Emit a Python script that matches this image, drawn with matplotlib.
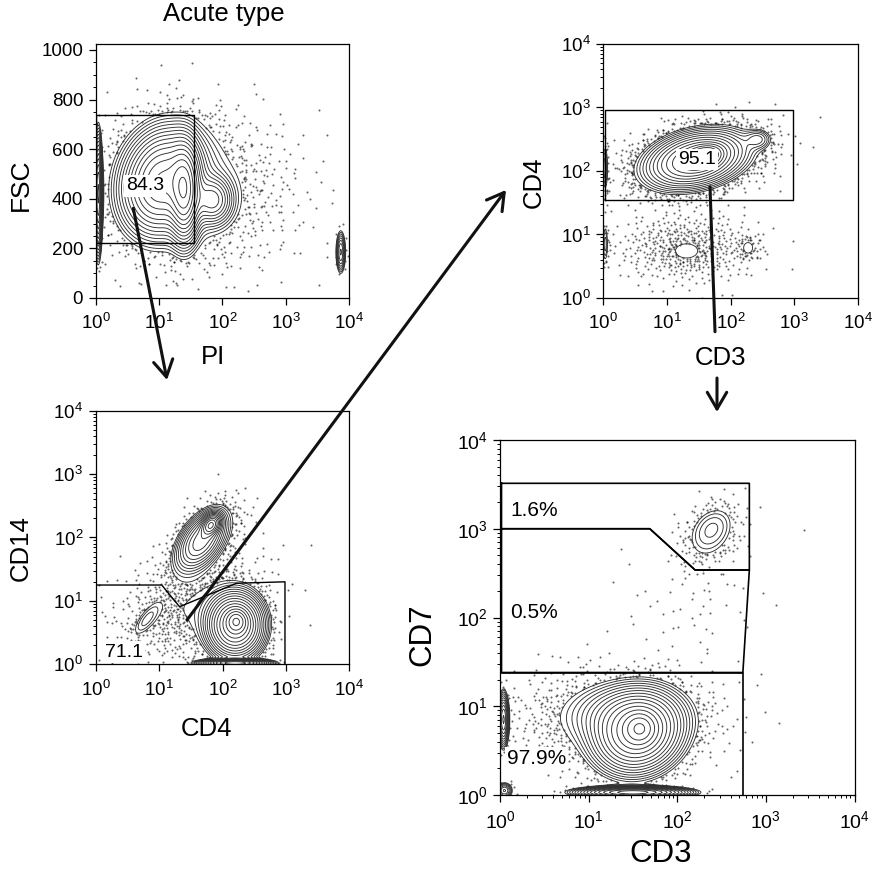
import numpy as np
import matplotlib
matplotlib.use("Agg")
import matplotlib.pyplot as plt
from matplotlib.patches import FancyArrowPatch
from matplotlib.ticker import FixedLocator, FixedFormatter, LogLocator, NullFormatter, MultipleLocator

plt.rcParams['font.family'] = ['Liberation Sans', 'DejaVu Sans']
plt.rcParams['mathtext.default'] = 'regular'

# ---- axis ticks ----
log_ticks = [1, 10, 100, 1000, 10000]
log_labels = ['$10^{0}$', '$10^{1}$', '$10^{2}$', '$10^{3}$', '$10^{4}$']
fsc_ticks = [0, 200, 400, 600, 800, 1000]
fsc_labels = ['0', '200', '400', '600', '800', '1000']

# ---- populations ----
# centre (log10 x, y), spread, correlation, number of events
# panel A: PI (log) vs FSC (linear, y in FSC units)
pi_cx = [1.05, 1.40, 1.85, 0.04, 3.87, 1.20, 1.90]
pi_cy = [470, 430, 395, 420, 185, 460, 420]
pi_sx = [0.30, 0.12, 0.16, 0.03, 0.04, 0.55, 0.75]
pi_sy = [100, 95, 50, 110, 45, 150, 170]
pi_rho = [0.15, 0.0, 0.0, 0.0, 0.0, 0.0, 0.0]
pi_n = [5000, 2500, 500, 600, 70, 1200, 500]

# panel B: CD3 vs CD4 (log10 both)
b_cx = [1.45, 1.58, 2.43, 1.31, 2.28, 0.03, 0.03, 1.30, 1.50]
b_cy = [2.18, 2.22, 2.50, 0.72, 0.79, 2.05, 0.85, 0.80, 2.20]
b_sx = [0.38, 0.14, 0.12, 0.18, 0.10, 0.03, 0.03, 0.55, 0.60]
b_sy = [0.22, 0.09, 0.09, 0.12, 0.12, 0.25, 0.20, 0.28, 0.30]
b_rho = [0.3, 0.3, 0.0, 0.0, 0.0, 0.0, 0.0, 0.0, 0.3]
b_n = [6000, 1500, 110, 45, 52, 60, 45, 450, 800]

# panel C: CD4 vs CD14 (log10 both)
c_cx = [1.66, 1.82, 2.20, 2.22, 2.20, 0.80, 1.50, 1.75]
c_cy = [1.95, 2.20, 0.62, 0.68, 0.02, 0.70, 0.90, 2.00]
c_sx = [0.20, 0.08, 0.22, 0.09, 0.25, 0.14, 0.60, 0.30]
c_sy = [0.24, 0.09, 0.25, 0.10, 0.03, 0.17, 0.45, 0.32]
c_rho = [0.5, 0.3, 0.0, 0.0, 0.0, 0.75, 0.3, 0.5]
c_n = [1400, 500, 5000, 600, 1000, 70, 800, 350]

# panel D: CD3 vs CD7 (log10 both)
d_cx = [1.55, 1.58, 1.45, 1.50, 0.04, 0.05, 2.39, 2.38, 1.30, 2.20]
d_cy = [0.70, 0.75, 0.90, 0.03, 0.85, 0.05, 3.02, 2.95, 0.85, 2.20]
d_sx = [0.24, 0.10, 0.32, 0.28, 0.03, 0.05, 0.12, 0.18, 0.60, 0.45]
d_sy = [0.22, 0.10, 0.18, 0.03, 0.15, 0.05, 0.12, 0.20, 0.30, 0.40]
d_rho = [0.1, 0.0, 0.0, 0.0, 0.0, 0.0, 0.3, 0.3, 0.0, 0.0]
d_n = [6000, 800, 1200, 1500, 250, 50, 40, 250, 900, 60]

# ---- gates ----
a_gate_x = [1.02, 35.7, 35.7, 1.02, 1.02]
a_gate_y = [221, 221, 738, 738, 221]
b_gate_x = [1.07, 950, 950, 1.07, 1.07]
b_gate_y = [35.3, 35.3, 900, 900, 35.3]
c_gate_x = [1.02, 1.02, 11, 21, 167, 967, 967]
c_gate_y = [1.0, 17.8, 17.8, 8.1, 19, 20, 1.0]
d_top_x = [1.04, 651, 651, 159, 49, 1.04, 1.04]
d_top_y = [3250, 3250, 343, 343, 1000, 1000, 3250]
d_mid_x = [1.04, 49, 159, 651, 550, 1.04, 1.04]
d_mid_y = [1000, 1000, 343, 343, 24, 24, 1000]
d_low_x = [1.04, 550, 550]
d_low_y = [24, 24, 1.0]


def halton(n, base, start):
    out = np.empty(n)
    for i in range(n):
        k, f, r = start + i, 1.0, 0.0
        while k > 0:
            f /= base
            r += f * (k % base)
            k //= base
        out[i] = r
    return out


def events(cx, cy, sx, sy, rho, n):
    # deterministic quasi-random draw of every population
    xs, ys = [], []
    start = 1
    for i in range(len(cx)):
        h1 = halton(n[i], 2, start)
        h2 = halton(n[i], 3, start)
        start += n[i]
        r = np.sqrt(-2 * np.log(1 - 0.999 * h1))
        z1 = r * np.cos(2 * np.pi * h2)
        z2 = r * np.sin(2 * np.pi * h2)
        xs.append(cx[i] + sx[i] * z1)
        ys.append(cy[i] + sy[i] * (rho[i] * z1 + np.sqrt(1 - rho[i] ** 2) * z2))
    return np.concatenate(xs), np.concatenate(ys)


def density(u, v, cx, cy, sx, sy, rho, n):
    z = np.zeros_like(u)
    for i in range(len(cx)):
        a = (u - cx[i]) / sx[i]
        b = (v - cy[i]) / sy[i]
        q = (a * a - 2 * rho[i] * a * b + b * b) / (1 - rho[i] ** 2)
        z += n[i] / (sx[i] * sy[i] * np.sqrt(1 - rho[i] ** 2)) * np.exp(-q / 2)
    return z


def draw_flow(ax, cx, cy, sx, sy, rho, n, yscale=1.0, ylog=True, f0=0.02, nlev=16):
    cy = np.array(cy, float) / yscale
    sy = np.array(sy, float) / yscale
    to_y = (lambda v: 10 ** v) if ylog else (lambda v: v * yscale)
    U, V = np.meshgrid(np.linspace(0, 4, 400), np.linspace(0, 4, 400))
    Z = density(U, V, cx, cy, sx, sy, rho, n)
    levels = Z.max() * np.geomspace(f0, 0.92, nlev)
    eu, ev = events(cx, cy, sx, sy, rho, n)
    keep = (density(eu, ev, cx, cy, sx, sy, rho, n) < levels[0]) & \
           (eu > 0) & (eu < 4) & (ev > 0) & (ev < 4)
    ax.scatter(10 ** eu[keep], to_y(ev[keep]), s=2.2, c='k', alpha=0.6,
               linewidths=0, rasterized=True)
    ax.contour(10 ** U, to_y(V), Z, levels=levels, colors='#303030', linewidths=0.65)


def style_axes(ax, ylog=True, fs=13.5):
    ax.set_xscale('log')
    ax.set_xlim(1, 10000)
    ax.xaxis.set_major_locator(FixedLocator(log_ticks))
    ax.xaxis.set_major_formatter(FixedFormatter(log_labels))
    ax.xaxis.set_minor_locator(LogLocator(base=10, subs=np.arange(2, 10)))
    ax.xaxis.set_minor_formatter(NullFormatter())
    if ylog:
        ax.set_yscale('log')
        ax.set_ylim(1, 10000)
        ax.yaxis.set_major_locator(FixedLocator(log_ticks))
        ax.yaxis.set_major_formatter(FixedFormatter(log_labels))
        ax.yaxis.set_minor_locator(LogLocator(base=10, subs=np.arange(2, 10)))
        ax.yaxis.set_minor_formatter(NullFormatter())
    else:
        ax.set_ylim(0, 1024)
        ax.yaxis.set_major_locator(FixedLocator(fsc_ticks))
        ax.yaxis.set_major_formatter(FixedFormatter(fsc_labels))
        ax.yaxis.set_minor_locator(MultipleLocator(50))
    ax.tick_params(which='major', direction='out', length=5, width=0.9, labelsize=fs)
    ax.tick_params(which='minor', direction='out', length=2.5, width=0.7)
    ax.tick_params(axis='x', pad=6)
    ax.tick_params(axis='y', pad=4)
    for s in ax.spines.values():
        s.set_linewidth(0.9)


W, H = 886, 871
fig = plt.figure(figsize=(W / 100, H / 100), dpi=100)


def box(x0, y0, x1, y1):
    # pixel box (top-left origin) -> figure fraction
    return [x0 / W, 1 - y1 / H, (x1 - x0) / W, (y1 - y0) / H]


ax1 = fig.add_axes(box(95.7, 44, 349, 298))
ax2 = fig.add_axes(box(603.3, 44, 858, 298))
ax3 = fig.add_axes(box(95.7, 410.7, 349.3, 664.3))
ax4 = fig.add_axes(box(500, 440, 854.5, 795))

# panel A
draw_flow(ax1, pi_cx, pi_cy, pi_sx, pi_sy, pi_rho, pi_n, yscale=256, ylog=False)
style_axes(ax1, ylog=False)
ax1.plot(a_gate_x, a_gate_y, color='k', lw=1.0)
ax1.text(6.0, 452, '84.3', fontsize=14, ha='center', va='center',
         bbox=dict(facecolor='white', edgecolor='none', pad=1.5), zorder=5)

# panel B
draw_flow(ax2, b_cx, b_cy, b_sx, b_sy, b_rho, b_n)
style_axes(ax2)
ax2.plot(b_gate_x, b_gate_y, color='k', lw=1.0)
ax2.text(30, 150, '95.1', fontsize=14, ha='center', va='center',
         bbox=dict(facecolor='white', edgecolor='none', pad=1.5), zorder=5)

# panel C
draw_flow(ax3, c_cx, c_cy, c_sx, c_sy, c_rho, c_n)
style_axes(ax3)
ax3.plot(c_gate_x, c_gate_y, color='k', lw=1.0)
ax3.text(2.8, 1.56, '71.1', fontsize=14, ha='center', va='center', clip_on=False,
         bbox=dict(facecolor='white', edgecolor='none', pad=1.5), zorder=5)

# panel D
draw_flow(ax4, d_cx, d_cy, d_sx, d_sy, d_rho, d_n)
style_axes(ax4, fs=14)
for gx, gy in [(d_top_x, d_top_y), (d_mid_x, d_mid_y), (d_low_x, d_low_y)]:
    ax4.plot(gx, gy, color='k', lw=1.2)
ax4.text(1.3, 1585, '1.6%', fontsize=15, ha='left', va='center')
ax4.text(1.3, 115, '0.5%', fontsize=15, ha='left', va='center')
ax4.text(1.19, 2.6, '97.9%', fontsize=15, ha='left', va='center', zorder=5,
         bbox=dict(facecolor='white', edgecolor='none', pad=1.0))


# axis titles placed as on the original sheet
def ftext(x, y, s, size, rot=0):
    fig.text(x / W, 1 - y / H, s, fontsize=size, rotation=rot, ha='center', va='center')


ftext(224, 14, 'Acute type', 18.5)
ftext(21, 185, 'FSC', 19, 90)
ftext(213, 357, 'PI', 18.5)
ftext(534, 182, 'CD4', 18.5, 90)
ftext(720, 358, 'CD3', 18.5)
ftext(21, 548, 'CD14', 18.5, 90)
ftext(206, 729, 'CD4', 18.5)
ftext(422, 635, 'CD7', 22.5, 90)
ftext(661, 854, 'CD3', 22.5)


# arrows linking the gates
def farrow(p0, p1, head=True):
    style = '->,head_length=0.6,head_width=0.35' if head else '-'
    a = FancyArrowPatch((p0[0], H - p0[1]), (p1[0], H - p1[1]), transform=None,
                        arrowstyle=style, mutation_scale=20, lw=2.2, color='#111111',
                        shrinkA=0, shrinkB=0)
    fig.add_artist(a)


farrow((133.3, 208.3), (167, 380))
farrow((187, 620), (506, 190))
farrow((710, 186.7), (715, 331.7), head=False)
farrow((717, 378), (717, 412))

fig.savefig('out.png', dpi=100)
